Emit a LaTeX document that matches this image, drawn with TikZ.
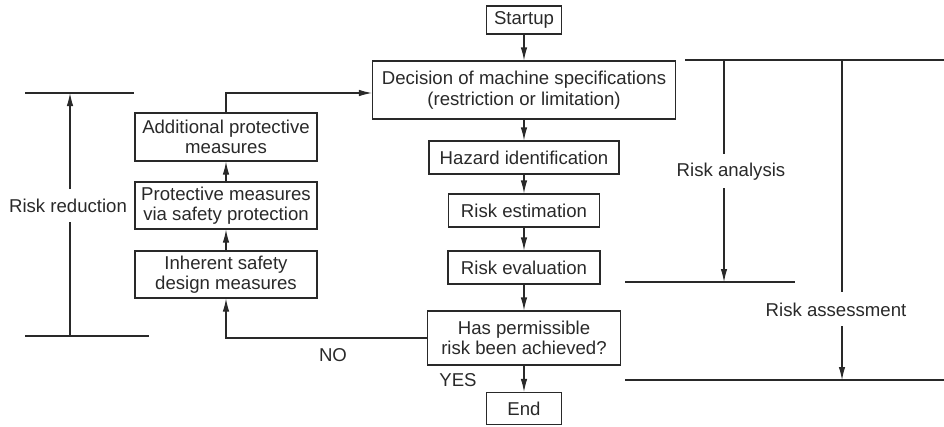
\documentclass[tikz,border=0pt]{standalone}
\usepackage{fontspec}
\setmainfont{Liberation Sans}
\usetikzlibrary{arrows.meta}
\definecolor{ink}{rgb}{0.16,0.16,0.16}
\begin{document}
\begin{tikzpicture}[x=1pt,y=-1pt,
  every node/.style={font=\fontsize{18.6}{20.5}\selectfont, text=ink},
  box/.style={draw=ink, line width=1.1pt, inner sep=0pt, align=center},
  lbl/.style={inner sep=0pt, align=center},
  ln/.style={draw=ink, line width=1.1pt},
  arr/.style={ln, -{Latex[length=13pt,width=6.5pt]}}]
\useasboundingbox (0,0) rectangle (944,426);
% central column
\node[box, minimum width=75, minimum height=28] (start) at (524,20) {Startup};
\node[box, minimum width=303, minimum height=58] (dec) at (524,90) {Decision of machine specifications\\(restriction or limitation)};
\node[box, minimum width=190, minimum height=33] (haz) at (524,157.5) {Hazard identification};
\node[box, minimum width=151, minimum height=33] (est) at (524,210.5) {Risk estimation};
\node[box, minimum width=152, minimum height=33] (eva) at (524,267.5) {Risk evaluation};
\node[box, minimum width=193, minimum height=54] (has) at (524,338) {Has permissible\\risk been achieved?};
\node[box, minimum width=75, minimum height=32] (end) at (524,408.5) {End};
% left column
\node[box, minimum width=182, minimum height=48] (add) at (226,137) {Additional protective\\measures};
\node[box, minimum width=182, minimum height=47] (prot) at (226,205.5) {Protective measures\\via safety protection};
\node[box, minimum width=182, minimum height=47] (inh) at (226,274.5) {Inherent safety\\design measures};
% labels
\node[lbl] (no) at (333,355) {NO};
\node[lbl] (yes) at (458,380) {YES};
\node[lbl] (rr) at (68,206) {Risk reduction};
\node[lbl] (ra) at (731,172) {Risk analysis};
\node[lbl] (rass) at (836,310) {Risk assessment};
% central arrows
\draw[arr] (start) -- (dec);
\draw[arr] (dec) -- (haz);
\draw[arr] (haz) -- (est);
\draw[arr] (est) -- (eva);
\draw[arr] (eva) -- (has);
\draw[arr] (has) -- (end);
% loop
\draw[arr] (has.west) -| (inh.south);
\draw[arr] (inh) -- (prot);
\draw[arr] (prot) -- (add);
\draw[arr] (add.north) |- ([yshift=-3pt]dec.west);
% risk reduction bracket
\coordinate (rrTL) at (25,93);
\coordinate (rrTR) at (134,93);
\coordinate (rrBL) at (25,336);
\coordinate (rrBR) at (149,336);
\coordinate (rrT) at (70,93);
\coordinate (rrB) at (70,336);
\coordinate (rrU) at (70,189);
\coordinate (rrD) at (70,222);
\draw[ln] (rrTL) -- (rrTR);
\draw[ln] (rrBL) -- (rrBR);
\draw[arr] (rrU) -- (rrT);
\draw[ln] (rrD) -- (rrB);
% risk analysis / assessment brackets
\coordinate (topL) at (685,60);
\coordinate (topR) at (944,60);
\coordinate (raL) at (625,282);
\coordinate (raR) at (795,282);
\coordinate (rsL) at (625,380);
\coordinate (rsR) at (944,380);
\coordinate (ra1) at (724,60);
\coordinate (ra2) at (724,154);
\coordinate (ra3) at (724,188);
\coordinate (ra4) at (724,282);
\coordinate (rs1) at (842,60);
\coordinate (rs2) at (842,292);
\coordinate (rs3) at (842,326);
\coordinate (rs4) at (842,380);
\draw[ln] (topL) -- (topR);
\draw[ln] (raL) -- (raR);
\draw[ln] (rsL) -- (rsR);
\draw[ln] (ra1) -- (ra2);
\draw[arr] (ra3) -- (ra4);
\draw[ln] (rs1) -- (rs2);
\draw[arr] (rs3) -- (rs4);
\end{tikzpicture}
\end{document}
